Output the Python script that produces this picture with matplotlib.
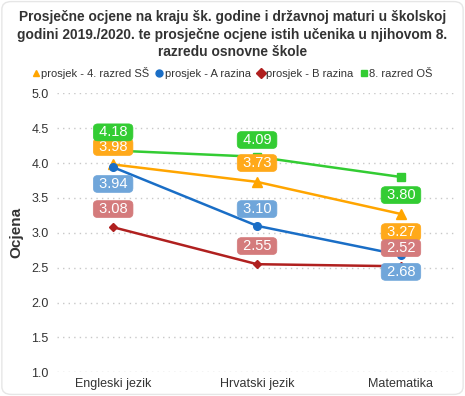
"""
Prosjecne ocjene - line chart with boxed value labels.
"""
import matplotlib
matplotlib.use("Agg")
import matplotlib.pyplot as plt
from matplotlib.patches import FancyBboxPatch

# --- data ---
subjects = ["Engleski jezik", "Hrvatski jezik", "Matematika"]
series_names = ["prosjek - 4. razred SŠ", "prosjek - A razina", "prosjek - B razina", "8. razred OŠ"]
ss4_vals = [3.98, 3.73, 3.27]
a_vals = [3.94, 3.10, 2.68]
b_vals = [3.08, 2.55, 2.52]
os8_vals = [4.18, 4.09, 3.80]
y_ticks = [1.0, 1.5, 2.0, 2.5, 3.0, 3.5, 4.0, 4.5, 5.0]

# label centre offsets (data units) from the point
ss4_lbl_off = [0.25, 0.27, -0.26]
a_lbl_off = [-0.24, 0.24, -0.24]
b_lbl_off = [0.26, 0.26, 0.26]
os8_lbl_off = [0.26, 0.24, -0.26]

# --- styles ---
styles = [
    dict(color="#ffa500", marker="^", ms=6.5, box="#ffa91a"),
    dict(color="#1a6ec6", marker="o", ms=5.5, box="#70a6da"),
    dict(color="#b0201f", marker="D", ms=4.5, box="#d47b7c"),
    dict(color="#33cc33", marker="s", ms=5.5, box="#33cc33"),
]
values = [ss4_vals, a_vals, b_vals, os8_vals]
offsets = [ss4_lbl_off, a_lbl_off, b_lbl_off, os8_lbl_off]

plt.rcParams["font.family"] = ["Liberation Sans", "DejaVu Sans"]

fig = plt.figure(figsize=(4.65, 3.96), dpi=100)
fig.patch.set_facecolor("white")
fig.patches.append(FancyBboxPatch((0.004, 0.004), 0.992, 0.992,
                                  boxstyle="round,pad=0,rounding_size=0.02",
                                  transform=fig.transFigure, facecolor="white",
                                  edgecolor="#e6e6e6", linewidth=1.0, zorder=-1))

ax = fig.add_axes([0.1226, 0.0598, 0.8604, 0.7046])
ax.set_facecolor("none")

x = list(range(len(subjects)))
handles = []
for name, vals, st in zip(series_names, values, styles):
    h, = ax.plot(x, vals, color=st["color"], lw=1.8, marker=st["marker"],
                 ms=st["ms"], zorder=3, label=name)
    handles.append(h)

for vals, offs, st in zip(values, offsets, styles):
    for xi, v, o in zip(x, vals, offs):
        ax.text(xi, v + o, f" {v:.2f} ", ha="center", va="center", color="white",
                fontsize=10.5, zorder=5,
                bbox=dict(boxstyle="round,pad=0.1,rounding_size=0.3",
                          facecolor=st["box"], edgecolor=st["box"], linewidth=0.5))

ax.set_ylim(1.0, 5.0)
ax.set_xlim(-0.39, 2.39)
ax.set_yticks(y_ticks)
ax.set_yticklabels([f"{t:.1f}" for t in y_ticks], fontsize=9, color="#333333")
ax.set_xticks(x)
ax.set_xticklabels(subjects, fontsize=9, color="#333333")
ax.tick_params(length=0, pad=6)
ax.tick_params(axis="x", pad=4)
ax.grid(axis="y", color="#c8c8c8", linestyle=(0, (1, 3)), linewidth=1.0)
for s in ax.spines.values():
    s.set_visible(False)

fig.text(0.035, 0.413, "Ocjena", rotation=90, ha="center", va="center",
         fontsize=11, fontweight="bold", color="#333333")

fig.text(0.5, 0.975,
         "Prosječne ocjene na kraju šk. godine i državnoj maturi u školskoj\n"
         "godini 2019./2020. te prosječne ocjene istih učenika u njihovom 8.\n"
         "razredu osnovne škole",
         ha="center", va="top", fontsize=9.9, fontweight="bold",
         color="#333333", linespacing=1.33)

fig.legend(handles=handles, loc="center", bbox_to_anchor=(0.5, 0.815), ncol=4,
           frameon=False, fontsize=8, handlelength=0.6, handletextpad=0.2,
           columnspacing=0.6, labelcolor="#333333")
for lh in fig.legends[0].legend_handles:
    lh.set_linestyle("none")
    lh.set_markersize(5)

fig.savefig("out.png", dpi=100)
